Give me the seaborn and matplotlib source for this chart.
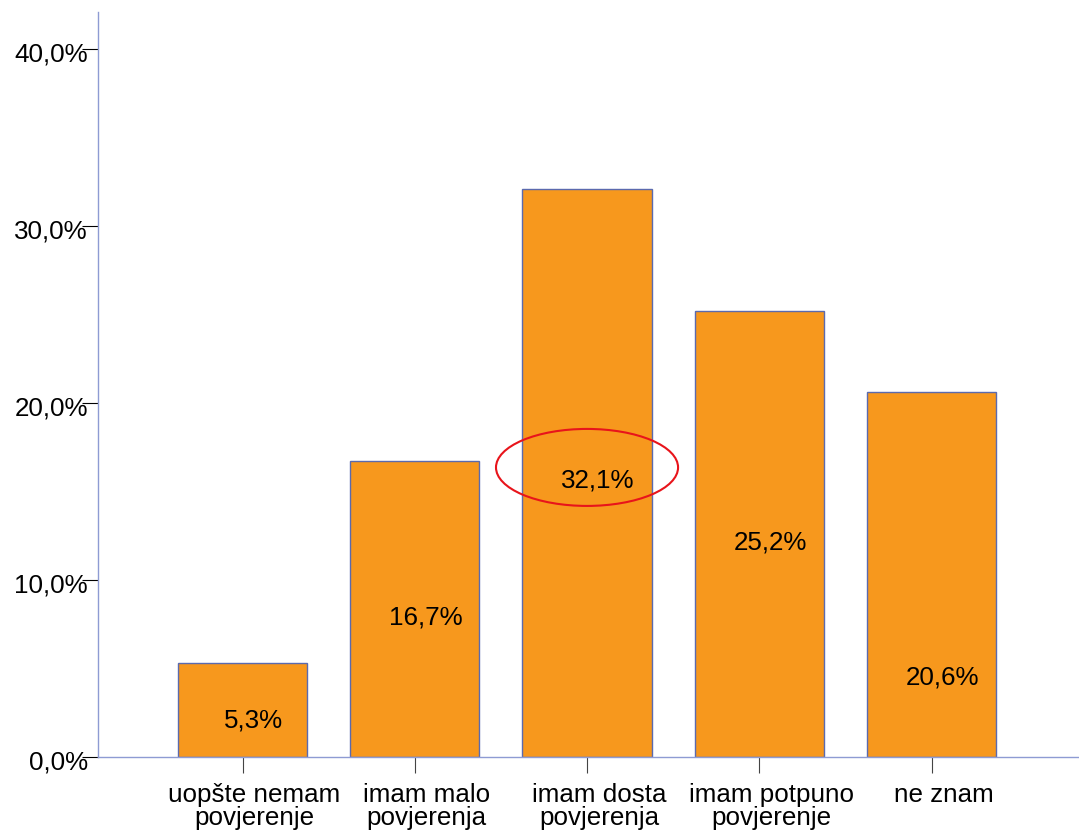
import seaborn as sns
import matplotlib.pyplot as plt
import pandas as pd
from matplotlib.patches import Ellipse
from matplotlib.transforms import ScaledTranslation

categories = ["uopšte nemam\npovjerenje", "imam malo\npovjerenja",
              "imam dosta\npovjerenja", "imam potpuno\npovjerenje", "ne znam"]
percents = [5.3, 16.7, 32.1, 25.2, 20.6]
value_labels = ["5,3%", "16,7%", "32,1%", "25,2%", "20,6%"]
label_heights = [1.69, 7.46, 15.20, 11.75, 4.07]
y_ticks = [0, 10, 20, 30, 40]
y_tick_labels = ["0,0%", "10,0%", "20,0%", "30,0%", "40,0%"]


def main():
    sns.set_style("white")
    plt.rcParams["font.family"] = ["Liberation Sans", "DejaVu Sans"]
    plt.rcParams["text.color"] = "black"
    fs = 18.7

    df = pd.DataFrame({"odgovor": categories, "procenat": percents})

    fig = plt.figure(figsize=(10.79, 8.34), dpi=100)
    ax = fig.add_axes([98 / 1079, 77 / 834, 981 / 1079, 745 / 834])

    sns.barplot(data=df, x="odgovor", y="procenat", color="#F7981D",
                saturation=1, width=0.75, edgecolor="#5B6AAE",
                linewidth=1, ax=ax)

    ax.set_xlim(-0.839, 4.856)
    ax.set_ylim(0, 42.09)
    ax.set_xlabel("")
    ax.set_ylabel("")

    ax.set_yticks(y_ticks)
    ax.set_yticklabels(y_tick_labels)

    for side in ["top", "right"]:
        ax.spines[side].set_visible(False)
    for side in ["left", "bottom"]:
        ax.spines[side].set_color("#8E9BD3")
        ax.spines[side].set_linewidth(1)

    ax.tick_params(axis="y", left=True, length=11.5, width=0.8,
                   color="black", labelcolor="black", pad=-4.3, labelsize=fs)
    ax.tick_params(axis="x", bottom=True, length=11.5, width=0.8,
                   color="#444444", labelcolor="black", pad=7.5, labelsize=fs)

    shift_x = ScaledTranslation(12 / 100, 0, fig.dpi_scale_trans)
    for lab in ax.get_xticklabels():
        lab.set_transform(lab.get_transform() + shift_x)
        lab.set_linespacing(0.95)

    shift_y = ScaledTranslation(0, -3 / 100, fig.dpi_scale_trans)
    for lab in ax.get_yticklabels():
        lab.set_transform(lab.get_transform() + shift_y)

    for i, (txt, h) in enumerate(zip(value_labels, label_heights)):
        ax.annotate(txt, (i, h), xytext=(8, 0), textcoords="offset points",
                    ha="center", va="baseline", fontsize=fs, color="black")

    ax.add_patch(Ellipse((2.0, 16.36), 1.057, 4.35, fill=False,
                         edgecolor="#E8141B", linewidth=1.5, clip_on=False))

    plt.savefig("out.png", dpi=100)


if __name__ == "__main__":
    main()
